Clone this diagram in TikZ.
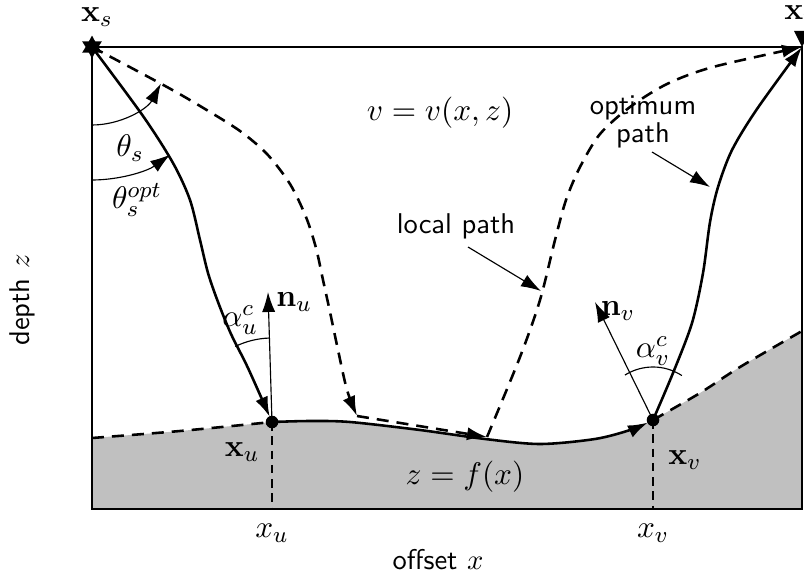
\documentclass[tikz,border=0pt]{standalone}
\usetikzlibrary{arrows.meta,shapes.geometric}
\definecolor{ground}{RGB}{192,192,192}
\begin{document}
\begin{tikzpicture}[x=0.35pt,y=-0.35pt,
  thickpath/.style={line width=0.9pt},
  boxline/.style={line width=0.75pt},
  thinline/.style={line width=0.4pt},
  bigtip/.style={-{Latex[length=7pt,width=4.6pt]}},
  dashline/.style={dash pattern=on 4.2pt off 2.8pt},
  thindash/.style={thinline,dash pattern=on 3pt off 2pt},
  lbl/.style={inner sep=0pt,font=\fontsize{10.8}{13}\selectfont},
  sans/.style={font=\sffamily, inner sep=0pt}]
\useasboundingbox (0,0) rectangle (804,574);
\clip (0,0) rectangle (804,574);
% key points
\coordinate (S) at (92,47);
\coordinate (R) at (802,47);
\coordinate (BL) at (92,509);
\coordinate (BR) at (802,509);
\coordinate (XU) at (272,422);
\coordinate (XV) at (653,420);
\coordinate (IL) at (92,438);
\coordinate (IR) at (802,331);
\coordinate (LA) at (357,416);
\coordinate (LB) at (487,437);
\coordinate (NU) at (268,292);
\coordinate (NV) at (595,302);
% ground
\fill[ground] plot[smooth] coordinates {(IL) (180,431) (XU)}
  -- plot[smooth] coordinates {(XU) (310,421) (350,422) (420,430) (485,439) (540,444) (595,439) (630,430) (XV)}
  -- plot[smooth] coordinates {(XV) (700,393) (740,367) (IR)}
  -- (BR) -- (BL) -- cycle;
% box
\draw[boxline] (S) rectangle (BR);
% projections
\draw[thindash] (XU) -- (XU |- BL);
\draw[thindash] (XV) -- (XV |- BL);
% interface
\draw[thickpath,dashline] plot[smooth] coordinates {(IL) (180,431) (XU)};
\draw[thickpath,dashline] plot[smooth] coordinates {(XV) (700,393) (740,367) (IR)};
\draw[thickpath,bigtip,shorten >=2pt] plot[smooth] coordinates {(XU) (310,421) (350,422) (420,430) (485,439) (540,444) (595,439) (630,430) (XV)};
% optimum path
\draw[thickpath,bigtip,shorten >=2pt] plot[smooth] coordinates {(S) (143,116) (173,163) (190,200) (200,240) (208,273) (218,302) (231,334) (248,368) (XU)};
\draw[thickpath,bigtip] plot[smooth] coordinates {(XV) (673,373) (692,323) (703,273) (710,222) (718,187) (732,150) (757,109) (R)};
% local path
\draw[thickpath,dashline,bigtip] plot[smooth] coordinates {(S) (167,87) (205,109) (240,131) (267,154) (290,184) (306,217) (316,248) (323,280) (330,312) (338,350) (347,390) (LA)};
\draw[thickpath,dashline,bigtip] (LA) -- (LB);
\draw[thickpath,dashline,bigtip] plot[smooth] coordinates {(LB) (520,357) (540,300) (555,240) (566,200) (580,167) (600,134) (630,107) (667,84) (713,67) (R)};
% angle arcs
\draw[thinline,bigtip] (S) ++(90:78) arc[start angle=90, end angle=28, radius=78];
\draw[thinline,bigtip] (S) ++(90:133) arc[start angle=90, end angle=54, radius=133];
\draw[thinline] (XU) ++(244:84) arc[start angle=244, end angle=268, radius=84];
\draw[thinline] (XV) ++(238:53) arc[start angle=238, end angle=303, radius=53];
% normals
\draw[thinline,bigtip] (XU) -- (NU);
\draw[thinline,bigtip] (XV) -- (NV);
% points
\fill (XU) circle[radius=2.2pt];
\fill (XV) circle[radius=2.2pt];
\node[star, star points=6, star point ratio=1.8, fill=black, inner sep=0pt, minimum size=8pt] (src) at (S) {};
\fill (R) -- ++(-8,-16) -- ++(16,0) -- cycle;
% labels
\node[lbl] (lxs) at (97,17) {$\mathbf{x}_s$};
\node[lbl] (lxt) at (799,15) {$\mathbf{x}_t$};
\node[lbl] (lv) at (440,113) {$v=v(x,z)$};
\node[lbl] (lth) at (130,148) {$\theta_s$};
\node[lbl] (lthopt) at (137,200) {$\theta_s^{opt}$};
\node[sans] (llocal) at (456,226) {local path};
\node[sans,align=center] (lopt) at (643,122) {optimum\\[-2pt]path};
\node[lbl] (lnu) at (294,302) {$\mathbf{n}_u$};
\node[lbl] (lau) at (240,320) {$\alpha_u^c$};
\node[lbl] (lnv) at (618,311) {$\mathbf{n}_v$};
\node[lbl] (lav) at (653,351) {$\alpha_v^c$};
\node[lbl] (lxu) at (242,452) {$\mathbf{x}_u$};
\node[lbl] (lxv) at (685,460) {$\mathbf{x}_v$};
\node[lbl] (lf) at (465,477) {$z=f(x)$};
\node[lbl] (axu) at (272,533) {$x_u$};
\node[lbl] (axv) at (653,533) {$x_v$};
\node[sans] (loff) at (438,560) {offset $x$};
\node[sans,rotate=90] (ldep) at (22,300) {depth $z$};
% label pointers
\coordinate (PL) at (541,291);
\coordinate (PO) at (710,187);
\draw[thinline,bigtip] (468,247) -- (PL);
\draw[thinline,bigtip] (652,152) -- (PO);
\end{tikzpicture}
\end{document}
